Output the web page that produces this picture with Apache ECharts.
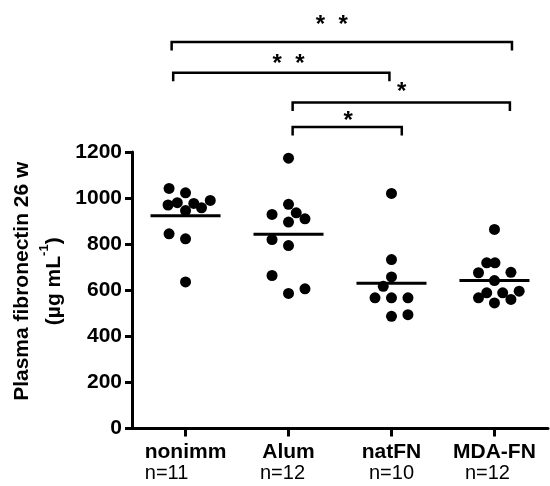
<!DOCTYPE html>
<html>
<head>
<meta charset="utf-8">
<script src="https://cdn.jsdelivr.net/npm/echarts@6/dist/echarts.min.js"></script>
<style>
  html, body { margin: 0; padding: 0; background: #fff; }
  #chart { width: 550px; height: 486px; }
</style>
</head>
<body>
<div id="chart"></div>
<script>
// groups and their n
const groups = ['nonimm', 'Alum', 'natFN', 'MDA-FN'];
const nLabels = ['n=11', 'n=12', 'n=10', 'n=12'];

// values (µg/mL), with the horizontal spread of each dot
const nonimmValues = [1042, 1023, 970, 980, 946, 977, 958, 990, 845, 823, 636];
const nonimmJitter = [-0.16, 0, -0.17, -0.08, 0, 0.08, 0.155, 0.24, -0.16, 0, 0];
const alumValues = [1173, 973, 929, 936, 910, 896, 820, 794, 664, 586, 606];
const alumJitter = [0, 0, -0.16, 0.075, 0.16, 0, -0.16, 0, -0.16, 0, 0.16];
const natfnValues = [1020, 733, 658, 617, 567, 567, 567, 487, 494];
const natfnJitter = [0, 0, 0, -0.08, -0.16, 0, 0.16, 0, 0.16];
const mdafnValues = [864, 719, 719, 676, 678, 642, 589, 567, 589, 596, 545, 560];
const mdafnJitter = [0, -0.075, 0.005, -0.155, 0.16, 0, -0.075, -0.155, 0.08, 0.24, 0, 0.16];

// group means (horizontal bars)
const means = [923, 843, 630, 642];

// significance brackets: from / to (group index), height, star text and its place
const bracketFrom = [-0.135, -0.12, 1.04, 1.04];
const bracketTo = [3.17, 1.98, 3.15, 2.1];
const bracketLevel = [1678, 1545, 1415, 1309];
const starText = ['*  *', '*  *', '*', '*'];
const starX = [1.42, 1.0, 2.1, 1.58];
const starY = [1752, 1581, 1458, 1335];

const FONT = 'Liberation Sans, Arial, sans-serif';

var chartDom = document.getElementById('chart');
var myChart = echarts.init(chartDom, null, { renderer: 'canvas' });

const allValues = [nonimmValues, alumValues, natfnValues, mdafnValues];
const allJitter = [nonimmJitter, alumJitter, natfnJitter, mdafnJitter];
const dots = [];
allValues.forEach(function (vals, g) {
  vals.forEach(function (v, k) {
    dots.push([g + allJitter[g][k], v]);
  });
});

const nPad = [38, 12, 0, 14];

var option = {
  animation: false,
  textStyle: { fontFamily: FONT },
  grid: [
    { left: 132, right: 2, top: 152, bottom: 57.5 },
    { left: 132, right: 2, top: 0, bottom: 334 }
  ],
  xAxis: [
    {
      type: 'value',
      gridIndex: 0,
      min: -0.52,
      max: 3.52,
      splitLine: { show: false },
      axisLine: { show: true, onZero: false, lineStyle: { color: '#000', width: 3 } },
      axisTick: {
        show: true,
        customValues: [0, 1, 2, 3],
        length: 8,
        lineStyle: { color: '#000', width: 3 }
      },
      axisLabel: {
        customValues: [0, 1, 2, 3],
        margin: 13,
        color: '#000',
        formatter: function (v) {
          var i = Math.round(v);
          return '{b|' + groups[i] + '}\n{n' + i + '|' + nLabels[i] + '}';
        },
        rich: {
          b: { fontFamily: FONT, fontSize: 21, fontWeight: 'bold', color: '#000', lineHeight: 21 },
          n0: { fontFamily: FONT, fontSize: 20, color: '#000', lineHeight: 21, padding: [0, nPad[0], 0, 0] },
          n1: { fontFamily: FONT, fontSize: 20, color: '#000', lineHeight: 21, padding: [0, nPad[1], 0, 0] },
          n2: { fontFamily: FONT, fontSize: 20, color: '#000', lineHeight: 21, padding: [0, nPad[2], 0, 0] },
          n3: { fontFamily: FONT, fontSize: 20, color: '#000', lineHeight: 21, padding: [0, nPad[3], 0, 0] }
        }
      }
    },
    {
      type: 'value',
      gridIndex: 1,
      min: -0.52,
      max: 3.52,
      show: false
    }
  ],
  yAxis: [
    {
      type: 'value',
      gridIndex: 0,
      min: 0,
      max: 1200,
      interval: 200,
      splitLine: { show: false },
      axisLine: { show: true, onZero: false, lineStyle: { color: '#000', width: 3 } },
      axisTick: { show: true, length: 7, lineStyle: { color: '#000', width: 3 } },
      axisLabel: {
        margin: 10,
        color: '#000',
        fontFamily: FONT,
        fontSize: 21,
        fontWeight: 'bold',
        formatter: function (v) { return String(v); }
      },
      name: '{t|Plasma fibronectin 26 w}\n{t|(µg mL}{s|-1}{t|)}',
      nameLocation: 'middle',
      nameGap: 60,
      nameRotate: 90,
      nameTextStyle: {
        color: '#000',
        padding: [0, 0, 0, 18],
        rich: {
          t: { fontFamily: FONT, fontSize: 21, fontWeight: 'bold', color: '#000', lineHeight: 32 },
          s: { fontFamily: FONT, fontSize: 13, fontWeight: 'bold', color: '#000', lineHeight: 13, verticalAlign: 'top' }
        }
      }
    },
    {
      type: 'value',
      gridIndex: 1,
      min: 1200,
      max: 1861,
      show: false
    }
  ],
  series: [
    {
      type: 'scatter',
      xAxisIndex: 0,
      yAxisIndex: 0,
      symbol: 'circle',
      symbolSize: 11,
      itemStyle: { color: '#000', opacity: 1 },
      data: dots
    },
    {
      // mean bars
      type: 'custom',
      xAxisIndex: 0,
      yAxisIndex: 0,
      data: means.map(function (m, i) { return [i, m]; }),
      renderItem: function (params, api) {
        var p1 = api.coord([api.value(0) - 0.34, api.value(1)]);
        var p2 = api.coord([api.value(0) + 0.34, api.value(1)]);
        return {
          type: 'line',
          shape: { x1: p1[0], y1: p1[1], x2: p2[0], y2: p2[1] },
          style: { stroke: '#000', lineWidth: 3 }
        };
      },
      z: 1
    },
    {
      // significance brackets
      type: 'custom',
      xAxisIndex: 1,
      yAxisIndex: 1,
      encode: { x: [0, 1, 3], y: [2, 4] },
      data: bracketFrom.map(function (f, i) {
        return [f, bracketTo[i], bracketLevel[i], starX[i], starY[i]];
      }),
      renderItem: function (params, api) {
        var lvl = api.value(2);
        var a = api.coord([api.value(0), lvl]);
        var b = api.coord([api.value(1), lvl]);
        var s = api.coord([api.value(3), api.value(4)]);
        var drop = 8.5;
        return {
          type: 'group',
          children: [
            {
              type: 'polyline',
              shape: { points: [[a[0], a[1] + drop], [a[0], a[1]], [b[0], b[1]], [b[0], b[1] + drop]] },
              style: { stroke: '#000', lineWidth: 2.5, fill: null }
            },
            {
              type: 'text',
              style: {
                text: starText[params.dataIndex],
                x: s[0],
                y: s[1],
                align: 'center',
                verticalAlign: 'middle',
                font: 'bold 24px ' + FONT,
                fill: '#000'
              }
            }
          ]
        };
      }
    }
  ]
};

myChart.setOption(option, true);
</script>
</body>
</html>
